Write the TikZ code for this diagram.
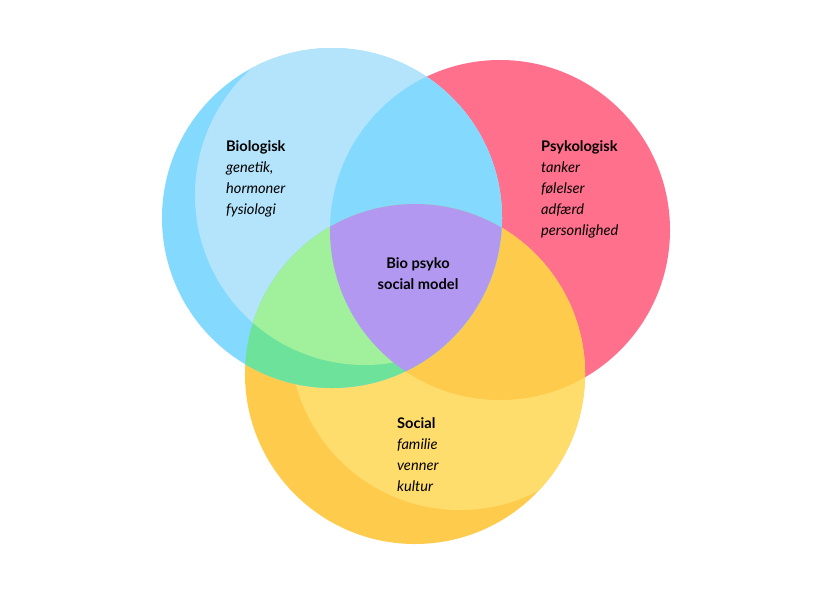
\documentclass[tikz,border=0pt]{standalone}
\usepackage{fontspec}
\setmainfont{Lato}
\definecolor{bluedark}{HTML}{84D9FE}
\definecolor{bluelight}{HTML}{B4E4FC}
\definecolor{pinkc}{HTML}{FF708D}
\definecolor{yellowdark}{HTML}{FFCB4C}
\definecolor{yellowlight}{HTML}{FFDD6C}
\definecolor{greendark}{HTML}{6DE29B}
\definecolor{greenlight}{HTML}{A0F09C}
\definecolor{purplec}{HTML}{B298F0}
\tikzset{
  label text/.style={anchor=north west,align=left,font=\fontsize{12.5}{18}\selectfont},
  center text/.style={align=center,font=\bfseries\fontsize{12.5}{18}\selectfont}
}
\def\rad{5.1cm}
\begin{document}
\begin{tikzpicture}[x=0.03cm,y=-0.03cm]
  \useasboundingbox (0,0) rectangle (832,604);
  \coordinate (bio) at (332,218);
  \coordinate (bioh) at (365,195);
  \coordinate (psy) at (500,230);
  \coordinate (soc) at (415,374);
  \coordinate (soch) at (460,340);

  % base circles
  \fill[pinkc] (psy) circle (\rad);
  \fill[yellowdark] (soc) circle (\rad);
  \begin{scope}
    \clip (soc) circle (\rad);
    \fill[yellowlight] (soch) circle (\rad);
    \fill[yellowdark] (psy) circle (\rad);
  \end{scope}
  \fill[bluedark] (bio) circle (\rad);
  \begin{scope}
    \clip (bio) circle (\rad);
    \fill[bluelight] (bioh) circle (\rad);
    \fill[bluedark] (psy) circle (\rad);
    \clip (soc) circle (\rad);
    \fill[greendark] (soc) circle (\rad);
    \fill[greenlight] (bioh) circle (\rad);
    \clip (psy) circle (\rad);
    \fill[purplec] (psy) circle (\rad);
  \end{scope}

  % labels
  \node[label text] (biotext) at (222,136) {\textbf{Biologisk}\\\textit{genetik,}\\\textit{hormoner}\\\textit{fysiologi}};
  \node[label text] (psytext) at (537,136) {\textbf{Psykologisk}\\\textit{tanker}\\\textit{følelser}\\\textit{adfærd}\\\textit{personlighed}};
  \node[label text] (soctext) at (393,413) {\textbf{Social}\\\textit{familie}\\\textit{venner}\\\textit{kultur}};
  \node[center text] (model) at (418,274) {Bio psyko\\social model};
\end{tikzpicture}
\end{document}
